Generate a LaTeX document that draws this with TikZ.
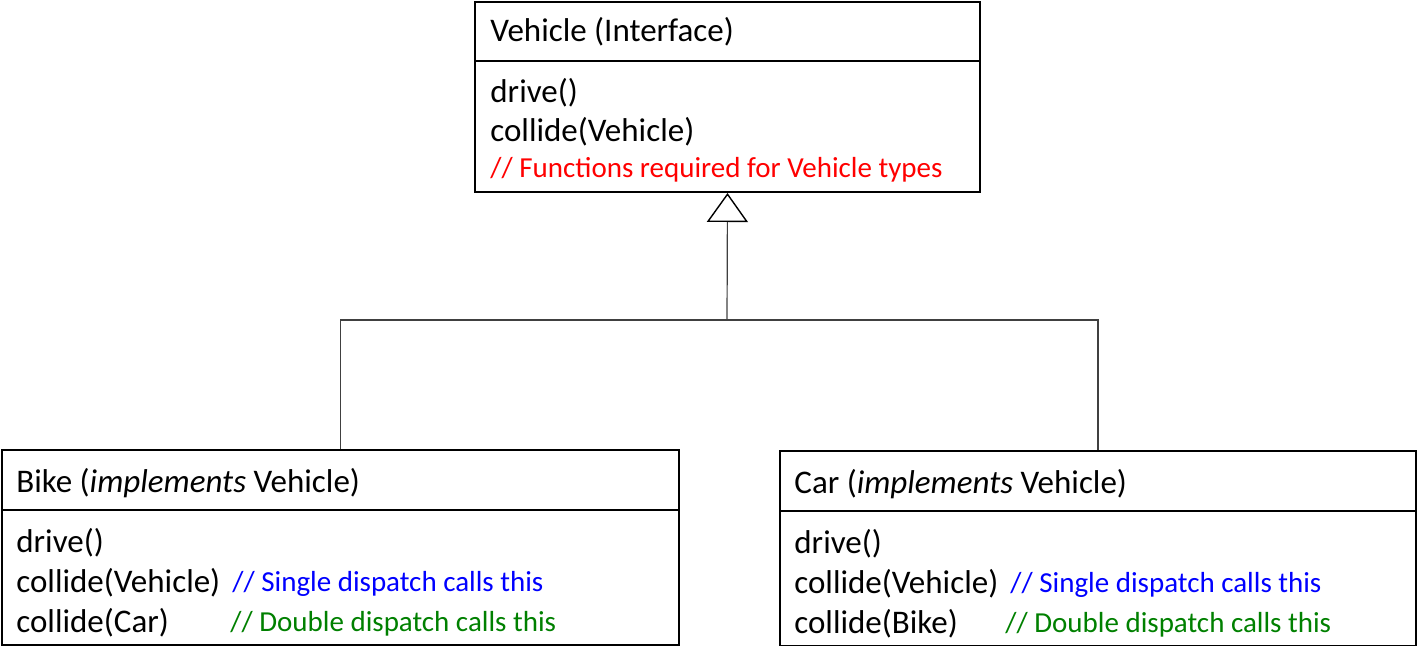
\documentclass[tikz,border=0pt]{standalone}
\usepackage{fontspec}
\setmainfont{Carlito}
\usetikzlibrary{arrows.meta}
\definecolor{cmtred}{RGB}{255,0,0}
\definecolor{cmtblue}{RGB}{0,0,255}
\definecolor{cmtgreen}{RGB}{0,128,0}
\tikzset{
  box/.style={draw=black, line width=1pt, rectangle, anchor=north west, inner sep=0pt},
  divider/.style={draw=black, line width=1pt},
  txt/.style={anchor=base west, inner sep=0pt, font=\fontsize{16.5}{20}\selectfont},
  cmt/.style={anchor=base west, inner sep=0pt, font=\fontsize{14.5}{17}\selectfont},
  link/.style={draw=black!75, line width=0.6pt},
}
\begin{document}
\begin{tikzpicture}[x=0.5pt,y=-0.5pt]
\useasboundingbox (0,0) rectangle (1417,646);
% boxes
\node[box, minimum width=252.5pt, minimum height=95pt] (vehicle) at (474,1) {};
\node[box, minimum width=338.5pt, minimum height=97.5pt] (bike) at (1,449) {};
\node[box, minimum width=318pt, minimum height=97.5pt] (car) at (779,450) {};
% dividers
\draw[divider] (vehicle.west |- 0,61) -- (vehicle.east |- 0,61);
\draw[divider] (bike.west |- 0,510) -- (bike.east |- 0,510);
\draw[divider] (car.west |- 0,511) -- (car.east |- 0,511);
% vehicle text
\node[txt] (vt) at (490,42) {Vehicle (Interface)};
\node[txt] (v1) at (490,103) {drive()};
\node[txt] (v2) at (490,142) {collide(Vehicle)};
\node[cmt, text=cmtred] (v3) at (490,178) {// Functions required for Vehicle types};
% bike text
\node[txt] (bt) at (16,492) {Bike (\textit{implements} Vehicle)};
\node[txt] (b1) at (16,552) {drive()};
\node[txt] (b2) at (16,592) {collide(Vehicle)};
\node[txt] (b3) at (16,632) {collide(Car)};
\node[cmt, text=cmtblue] (bc1) at (232,591) {// Single dispatch calls this};
\node[cmt, text=cmtgreen] (bc2) at (230,631) {// Double dispatch calls this};
% car text
\node[txt] (ct) at (794,493) {Car (\textit{implements} Vehicle)};
\node[txt] (c1) at (794,553) {drive()};
\node[txt] (c2) at (794,593) {collide(Vehicle)};
\node[txt] (c3) at (794,633) {collide(Bike)};
\node[cmt, text=cmtblue] (cc1) at (1010,592) {// Single dispatch calls this};
\node[cmt, text=cmtgreen] (cc2) at (1005,632) {// Double dispatch calls this};
% connectors
\coordinate (j) at (727,320);
\draw[link] (bike.north) |- (j) -| (car.north);
\draw[link, -{Triangle[open, length=14.5pt, width=20.5pt, line width=0.7pt, color=black]}] (j) -- (vehicle.south);
\end{tikzpicture}
\end{document}
